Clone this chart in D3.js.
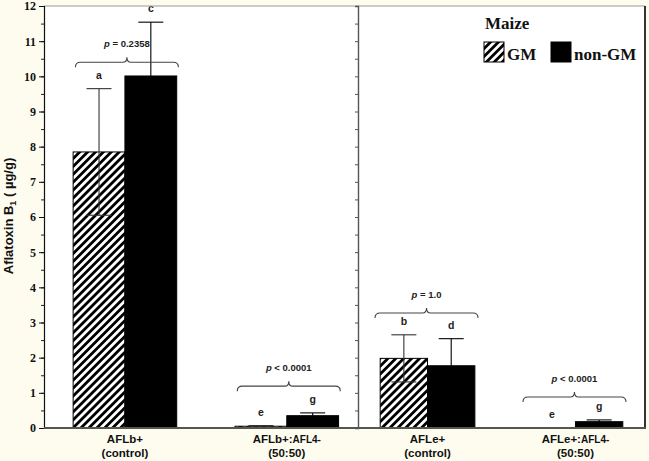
<!DOCTYPE html>
<html>
<head>
<meta charset="utf-8">
<script src="https://cdn.jsdelivr.net/npm/d3@7"></script>
<style>
  html, body { margin: 0; padding: 0; background: #fdfcee; }
  svg { display: block; }
</style>
</head>
<body>
<div id="chart"></div>
<script>
// ---------------- data ----------------
const categories = ["AFLb+", "AFLb+:AFL4-", "AFLe+", "AFLe+:AFL4-"];
const subLabels = ["(control)", "(50:50)", "(control)", "(50:50)"];
const categoryPanel = ["AFLb+", "AFLb+", "AFLe+", "AFLe+"];
const panels = ["AFLb+", "AFLe+"];
const series = ["GM", "non-GM"];
const gmValues = [7.85, 0.05, 1.98, 0.0];
const gmErrors = [1.80, 0.02, 0.67, 0.0];
const nonGmValues = [10.01, 0.35, 1.77, 0.18];
const nonGmErrors = [1.53, 0.08, 0.77, 0.05];
const gmLetters = ["a", "e", "b", "e"];
const nonGmLetters = ["c", "g", "d", "g"];
const pOperators = ["=", "<", "=", "<"];
const pValues = ["0.2358", "0.0001", "1.0", "0.0001"];
const bracketLevels = [10.4, 1.19, 3.27, 0.88];
const yTicks = [0, 1, 2, 3, 4, 5, 6, 7, 8, 9, 10, 11, 12];
const yMinorTicks = d3.range(0, 12.01, 0.5);

// ---------------- layout ----------------
const W = 649, H = 461;
const plotL = 44, plotR = 645, plotT = 6, plotB = 428, divX = 358;

const svg = d3.select("#chart").append("svg")
  .attr("width", W).attr("height", H);

svg.append("rect").attr("width", W).attr("height", H).attr("fill", "#fdfcee");
svg.append("rect").attr("x", plotL).attr("y", plotT)
  .attr("width", plotR - plotL).attr("height", plotB - plotT).attr("fill", "#ffffff");

const defs = svg.append("defs");
const pat = defs.append("pattern").attr("id", "hatch")
  .attr("patternUnits", "userSpaceOnUse")
  .attr("width", 5.6).attr("height", 5.6)
  .attr("patternTransform", "rotate(45)");
pat.append("rect").attr("width", 5.6).attr("height", 5.6).attr("fill", "#fff");
pat.append("line").attr("x1", 1.4).attr("y1", 0).attr("x2", 1.4).attr("y2", 5.6)
  .attr("stroke", "#000").attr("stroke-width", 2.8);

const y = d3.scaleLinear().domain([0, 12]).range([plotB, plotT]);

const panelRanges = { "AFLb+": [plotL, divX], "AFLe+": [divX, plotR] };
const panelAlign = { "AFLb+": 0.6, "AFLe+": 0.5 };
const xGroup = {};
panels.forEach(p => {
  xGroup[p] = d3.scaleBand()
    .domain(categories.filter((c, i) => categoryPanel[i] === p))
    .range(panelRanges[p])
    .paddingInner(0.36).paddingOuter(0.15).align(panelAlign[p]);
});
function groupStart(i) { return xGroup[categoryPanel[i]](categories[i]); }
function groupWidth(i) { return xGroup[categoryPanel[i]].bandwidth(); }
function xSeries(i) {
  return d3.scaleBand().domain(series).range([0, groupWidth(i)]);
}

const data = categories.map((c, i) => ({
  i, cat: c,
  bars: [
    { s: "GM", v: gmValues[i], e: gmErrors[i], letter: gmLetters[i] },
    { s: "non-GM", v: nonGmValues[i], e: nonGmErrors[i], letter: nonGmLetters[i] }
  ]
}));

// ---------------- bars ----------------
const g = svg.append("g");
data.forEach(d => {
  const xs = xSeries(d.i);
  const x0 = groupStart(d.i);
  d.bars.forEach(b => {
    const bx = x0 + xs(b.s), bw = xs.bandwidth();
    if (b.v > 0) {
      g.append("rect")
        .attr("x", bx).attr("y", y(b.v))
        .attr("width", bw).attr("height", y(0) - y(b.v))
        .attr("fill", b.s === "GM" ? "url(#hatch)" : "#000")
        .attr("stroke", "#000").attr("stroke-width", 1);
    }
    // error bars
    const cx = bx + bw / 2, cap = 12.5;
    if (b.e > 0) {
      const eg = g.append("g").attr("stroke", b.s === "GM" ? "#333" : "#000").attr("stroke-width", 1.1);
      eg.append("line").attr("x1", cx).attr("x2", cx).attr("y1", y(b.v - b.e)).attr("y2", y(b.v + b.e));
      eg.append("line").attr("x1", cx - cap).attr("x2", cx + cap).attr("y1", y(b.v + b.e)).attr("y2", y(b.v + b.e));
      eg.append("line").attr("x1", cx - cap).attr("x2", cx + cap).attr("y1", y(b.v - b.e)).attr("y2", y(b.v - b.e));
    }
    // letters
    g.append("text")
      .attr("x", cx).attr("y", y(b.v + b.e) - 10)
      .attr("text-anchor", "middle")
      .attr("font-family", "Liberation Sans, Arial, sans-serif")
      .attr("font-weight", "bold").attr("font-size", 10.5)
      .attr("fill", "#222")
      .text(b.letter);
  });

  // bracket
  const gc = x0 + groupWidth(d.i) / 2 + (categoryPanel[d.i] === "AFLb+" ? 2 : -1);
  const hw = 51.5, by = y(bracketLevels[d.i]);
  const x1 = gc - hw, x2 = gc + hw;
  const path = `M${x1},${by + 5} Q${x1},${by} ${x1 + 5},${by} L${gc - 4},${by} Q${gc},${by} ${gc},${by - 5} Q${gc},${by} ${gc + 4},${by} L${x2 - 5},${by} Q${x2},${by} ${x2},${by + 5}`;
  g.append("path").attr("d", path).attr("fill", "none")
    .attr("stroke", "#444").attr("stroke-width", 1.1);
  const pt = g.append("text")
    .attr("x", gc).attr("y", by - 15)
    .attr("text-anchor", "middle")
    .attr("font-family", "Liberation Sans, Arial, sans-serif")
    .attr("font-weight", "bold").attr("font-size", 9.5).attr("fill", "#222");
  pt.append("tspan").attr("font-style", "italic").text("p");
  pt.append("tspan").text(" " + pOperators[d.i] + " " + pValues[d.i]);
});

// ---------------- axes / frame ----------------
svg.append("line").attr("x1", plotL).attr("x2", plotR).attr("y1", plotT).attr("y2", plotT)
  .attr("stroke", "#999").attr("stroke-width", 1);
svg.append("line").attr("x1", plotR).attr("x2", plotR).attr("y1", plotT).attr("y2", plotB)
  .attr("stroke", "#333").attr("stroke-width", 2);

const divAxis = svg.append("g").attr("transform", `translate(${divX},0)`)
  .call(d3.axisLeft(y).tickValues(yMinorTicks).tickSize(3).tickFormat(""));
divAxis.select(".domain").attr("stroke", "#555").attr("stroke-width", 1.4);
divAxis.selectAll(".tick line").attr("stroke", "#555");

const minorAxis = svg.append("g").attr("transform", `translate(${plotL},0)`)
  .call(d3.axisLeft(y).tickValues(yMinorTicks).tickSize(3).tickFormat(""));
minorAxis.select(".domain").remove();
minorAxis.selectAll(".tick line").attr("stroke", "#222");

const yAxis = svg.append("g").attr("transform", `translate(${plotL},0)`)
  .call(d3.axisLeft(y).tickValues(yTicks).tickSize(5).tickPadding(3).tickFormat(d3.format("d")));
yAxis.select(".domain").attr("stroke", "#111").attr("stroke-width", 1.2);
yAxis.selectAll(".tick line").attr("stroke", "#111");
yAxis.selectAll(".tick text")
  .attr("font-family", "Liberation Serif, Times New Roman, serif")
  .attr("font-weight", "bold").attr("font-size", 12).attr("fill", "#111");

svg.append("line").attr("x1", plotL).attr("x2", plotR + 1).attr("y1", plotB).attr("y2", plotB)
  .attr("stroke", "#555").attr("stroke-width", 2);

// category labels
data.forEach(d => {
  const cx = groupStart(d.i) + groupWidth(d.i) / 2;
  const t = svg.append("text")
    .attr("x", cx).attr("y", 443)
    .attr("text-anchor", "middle")
    .attr("font-family", "Liberation Sans, Arial, sans-serif")
    .attr("font-weight", "bold").attr("font-size", 11.5).attr("fill", "#111");
  const parts = d.cat.split(":");
  t.append("tspan").text(parts[0] + (parts.length > 1 ? ":" : ""));
  if (parts.length > 1) t.append("tspan").attr("font-size", 10).text(parts[1]);
  svg.append("text")
    .attr("x", cx).attr("y", 457)
    .attr("text-anchor", "middle")
    .attr("font-family", "Liberation Sans, Arial, sans-serif")
    .attr("font-weight", "bold").attr("font-size", 11.5).attr("fill", "#111")
    .text(subLabels[d.i]);
});

// y title
const yt = svg.append("text")
  .attr("transform", "translate(13,216) rotate(-90)")
  .attr("text-anchor", "middle")
  .attr("font-family", "Liberation Sans, Arial, sans-serif")
  .attr("font-weight", "bold").attr("font-size", 13).attr("fill", "#111");
yt.append("tspan").text("Aflatoxin B");
yt.append("tspan").attr("font-size", 9).attr("dy", 3).text("1");
yt.append("tspan").attr("dy", -3).text(" ( µg/g)");

// legend
const lg = svg.append("g");
lg.append("text").attr("x", 485).attr("y", 29)
  .attr("font-family", "Liberation Serif, Times New Roman, serif")
  .attr("font-weight", "bold").attr("font-size", 17).attr("fill", "#111")
  .text("Maize");
const legendItems = [
  { s: series[0], x: 484, fill: "url(#hatch)" },
  { s: series[1], x: 551, fill: "#000" }
];
legendItems.forEach(it => {
  lg.append("rect").attr("x", it.x).attr("y", 42).attr("width", 20).attr("height", 20)
    .attr("fill", it.fill).attr("stroke", "#000").attr("stroke-width", 1);
  lg.append("text").attr("x", it.x + 23).attr("y", 60)
    .attr("font-family", "Liberation Serif, Times New Roman, serif")
    .attr("font-weight", "bold").attr("font-size", 17).attr("fill", "#111")
    .text(it.s);
});
</script>
</body>
</html>
